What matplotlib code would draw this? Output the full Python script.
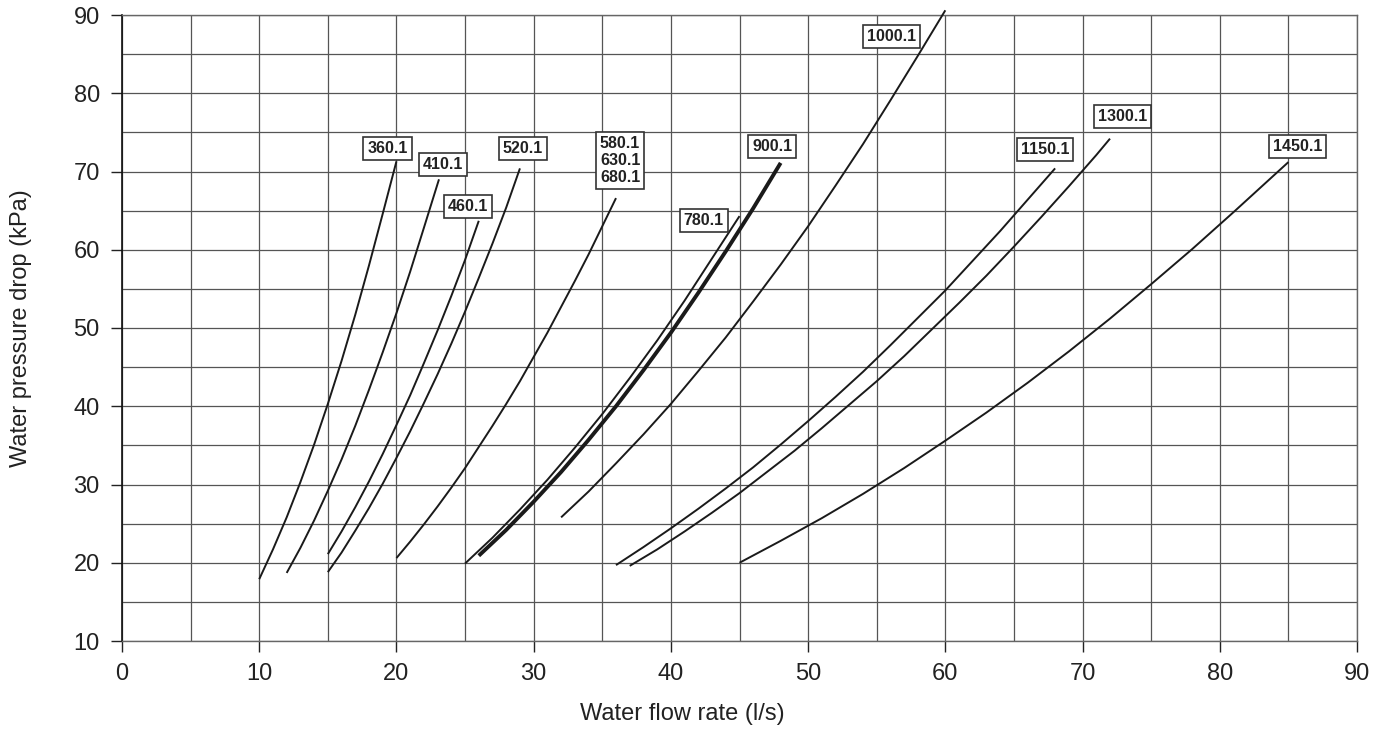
import matplotlib
matplotlib.use("Agg")
import matplotlib.pyplot as plt
from matplotlib.ticker import MultipleLocator

plt.rcParams['font.family'] = ['Liberation Sans', 'DejaVu Sans']

# water flow rate (l/s) and pressure drop (kPa)
q_360 = [10, 11, 12, 13, 14, 15, 16, 17, 18, 19, 20]
dp_360 = [17.9, 21.7, 25.8, 30.3, 35.1, 40.3, 45.8, 51.7, 58.0, 64.6, 71.3]

q_410 = [12, 13, 14, 15, 16, 17, 18, 19, 20, 21, 22, 23.1]
dp_410 = [18.7, 21.9, 25.4, 29.2, 33.2, 37.5, 42.1, 46.9, 51.9, 57.2, 62.8, 69.0]

q_460 = [15, 16, 17, 18, 19, 20, 21, 22, 23, 24, 25, 26]
dp_460 = [21.1, 24.0, 27.1, 30.4, 33.9, 37.6, 41.4, 45.5, 49.7, 54.1, 58.7, 63.7]

q_520 = [15, 16, 17, 18, 19, 20, 21, 22, 23, 24, 25, 26, 27, 28, 29]
dp_520 = [18.8, 21.3, 24.1, 27.0, 30.1, 33.4, 36.8, 40.4, 44.1, 48.0, 52.1, 56.4, 60.8, 65.4, 70.4]

q_580 = [20, 21, 22, 23, 24, 25, 26, 27, 28, 29, 30, 31, 32, 33, 34, 35, 36]
dp_580 = [20.6, 22.7, 24.9, 27.2, 29.6, 32.1, 34.8, 37.5, 40.3, 43.2, 46.3, 49.4, 52.7, 56.0, 59.4, 63.0, 66.6]

q_780 = [25, 27, 29, 31, 33, 35, 37, 39, 41, 43, 45]
dp_780 = [19.9, 23.2, 26.8, 30.6, 34.7, 39.0, 43.6, 48.4, 53.5, 58.9, 64.3]

q_900 = [26, 28, 30, 32, 34, 36, 38, 40, 42, 44, 46, 48]
dp_900 = [20.9, 24.2, 27.8, 31.6, 35.7, 40.0, 44.6, 49.4, 54.5, 59.8, 65.3, 71.1]

q_1000 = [32, 34, 36, 38, 40, 42, 44, 46, 48, 50, 52, 54, 56, 58, 60]
dp_1000 = [25.8, 29.1, 32.7, 36.4, 40.3, 44.5, 48.8, 53.4, 58.1, 63.0, 68.2, 73.5, 79.1, 84.8, 90.6]

q_1150 = [36, 38, 40, 42, 44, 46, 48, 50, 52, 54, 56, 58, 60, 62, 64, 66, 68]
dp_1150 = [19.7, 22.0, 24.4, 26.9, 29.5, 32.2, 35.1, 38.1, 41.2, 44.4, 47.8, 51.3, 54.8, 58.6, 62.4, 66.4, 70.4]

q_1300 = [37, 39, 41, 43, 45, 47, 49, 51, 53, 55, 57, 59, 61, 63, 65, 67, 69, 71, 72]
dp_1300 = [19.6, 21.7, 24.0, 26.4, 28.9, 31.6, 34.3, 37.2, 40.2, 43.2, 46.4, 49.8, 53.2, 56.7, 60.4,
           64.2, 68.1, 72.1, 74.2]

q_1450 = [45, 48, 51, 54, 57, 60, 63, 66, 69, 72, 75, 78, 81, 83, 85]
dp_1450 = [20.0, 22.8, 25.7, 28.8, 32.1, 35.6, 39.2, 43.0, 47.0, 51.2, 55.6, 60.1, 64.8, 68.0, 71.2]

labels = ["360.1", "410.1", "460.1", "520.1", "580.1\n630.1\n680.1", "780.1",
          "900.1", "1000.1", "1150.1", "1300.1", "1450.1"]
# where each model tag sits (data coordinates)
label_pos = [(19.35, 72.9), (23.4, 70.9), (25.2, 65.5), (29.2, 72.9), (36.3, 71.4),
             (42.4, 63.8), (47.4, 73.2), (56.1, 87.3), (67.25, 72.8), (72.9, 77.0),
             (85.65, 73.25)]

curves = [(q_360, dp_360), (q_410, dp_410), (q_460, dp_460), (q_520, dp_520),
          (q_580, dp_580), (q_780, dp_780), (q_900, dp_900), (q_1000, dp_1000),
          (q_1150, dp_1150), (q_1300, dp_1300), (q_1450, dp_1450)]

fig = plt.figure(figsize=(13.86, 7.31), dpi=100)
ax = fig.add_axes([122 / 1386, 90 / 731, 1235 / 1386, 626 / 731])

for lab, (q, dp) in zip(labels, curves):
    lw = 2.8 if lab == "900.1" else 1.4
    ax.plot(q, dp, color='#1a1a1a', lw=lw, solid_capstyle='butt', clip_on=False, zorder=3)

for lab, (tx, ty) in zip(labels, label_pos):
    ax.text(tx, ty, lab, ha='center', va='center', fontsize=11.5, fontweight='bold',
            color='#222222', linespacing=1.15, zorder=5,
            bbox=dict(boxstyle='square,pad=0.25', fc='white', ec='#333333', lw=1.2))

ax.set_xlim(0, 90)
ax.set_ylim(10, 90)
ax.xaxis.set_major_locator(MultipleLocator(10))
ax.xaxis.set_minor_locator(MultipleLocator(5))
ax.yaxis.set_major_locator(MultipleLocator(10))
ax.yaxis.set_minor_locator(MultipleLocator(5))
ax.tick_params(which='major', length=8, width=1.0, color='#222222', pad=8,
               labelsize=17, labelcolor='#222222')
ax.tick_params(which='minor', length=0)
ax.grid(which='both', color='#555555', lw=0.9)
ax.set_axisbelow(True)

for side in ['top', 'right', 'bottom']:
    ax.spines[side].set_color('#666666')
    ax.spines[side].set_linewidth(1.0)
ax.spines['left'].set_color('#111111')
ax.spines['left'].set_linewidth(1.2)

fig.text(682 / 1386, 1 - 714 / 731, "Water flow rate (l/s)", ha='center', va='center',
         fontsize=17, color='#222222')
fig.text(21 / 1386, 1 - 328 / 731, "Water pressure drop (kPa)", ha='center', va='center',
         rotation=90, fontsize=17, color='#222222')

fig.savefig("out.png", dpi=100)
